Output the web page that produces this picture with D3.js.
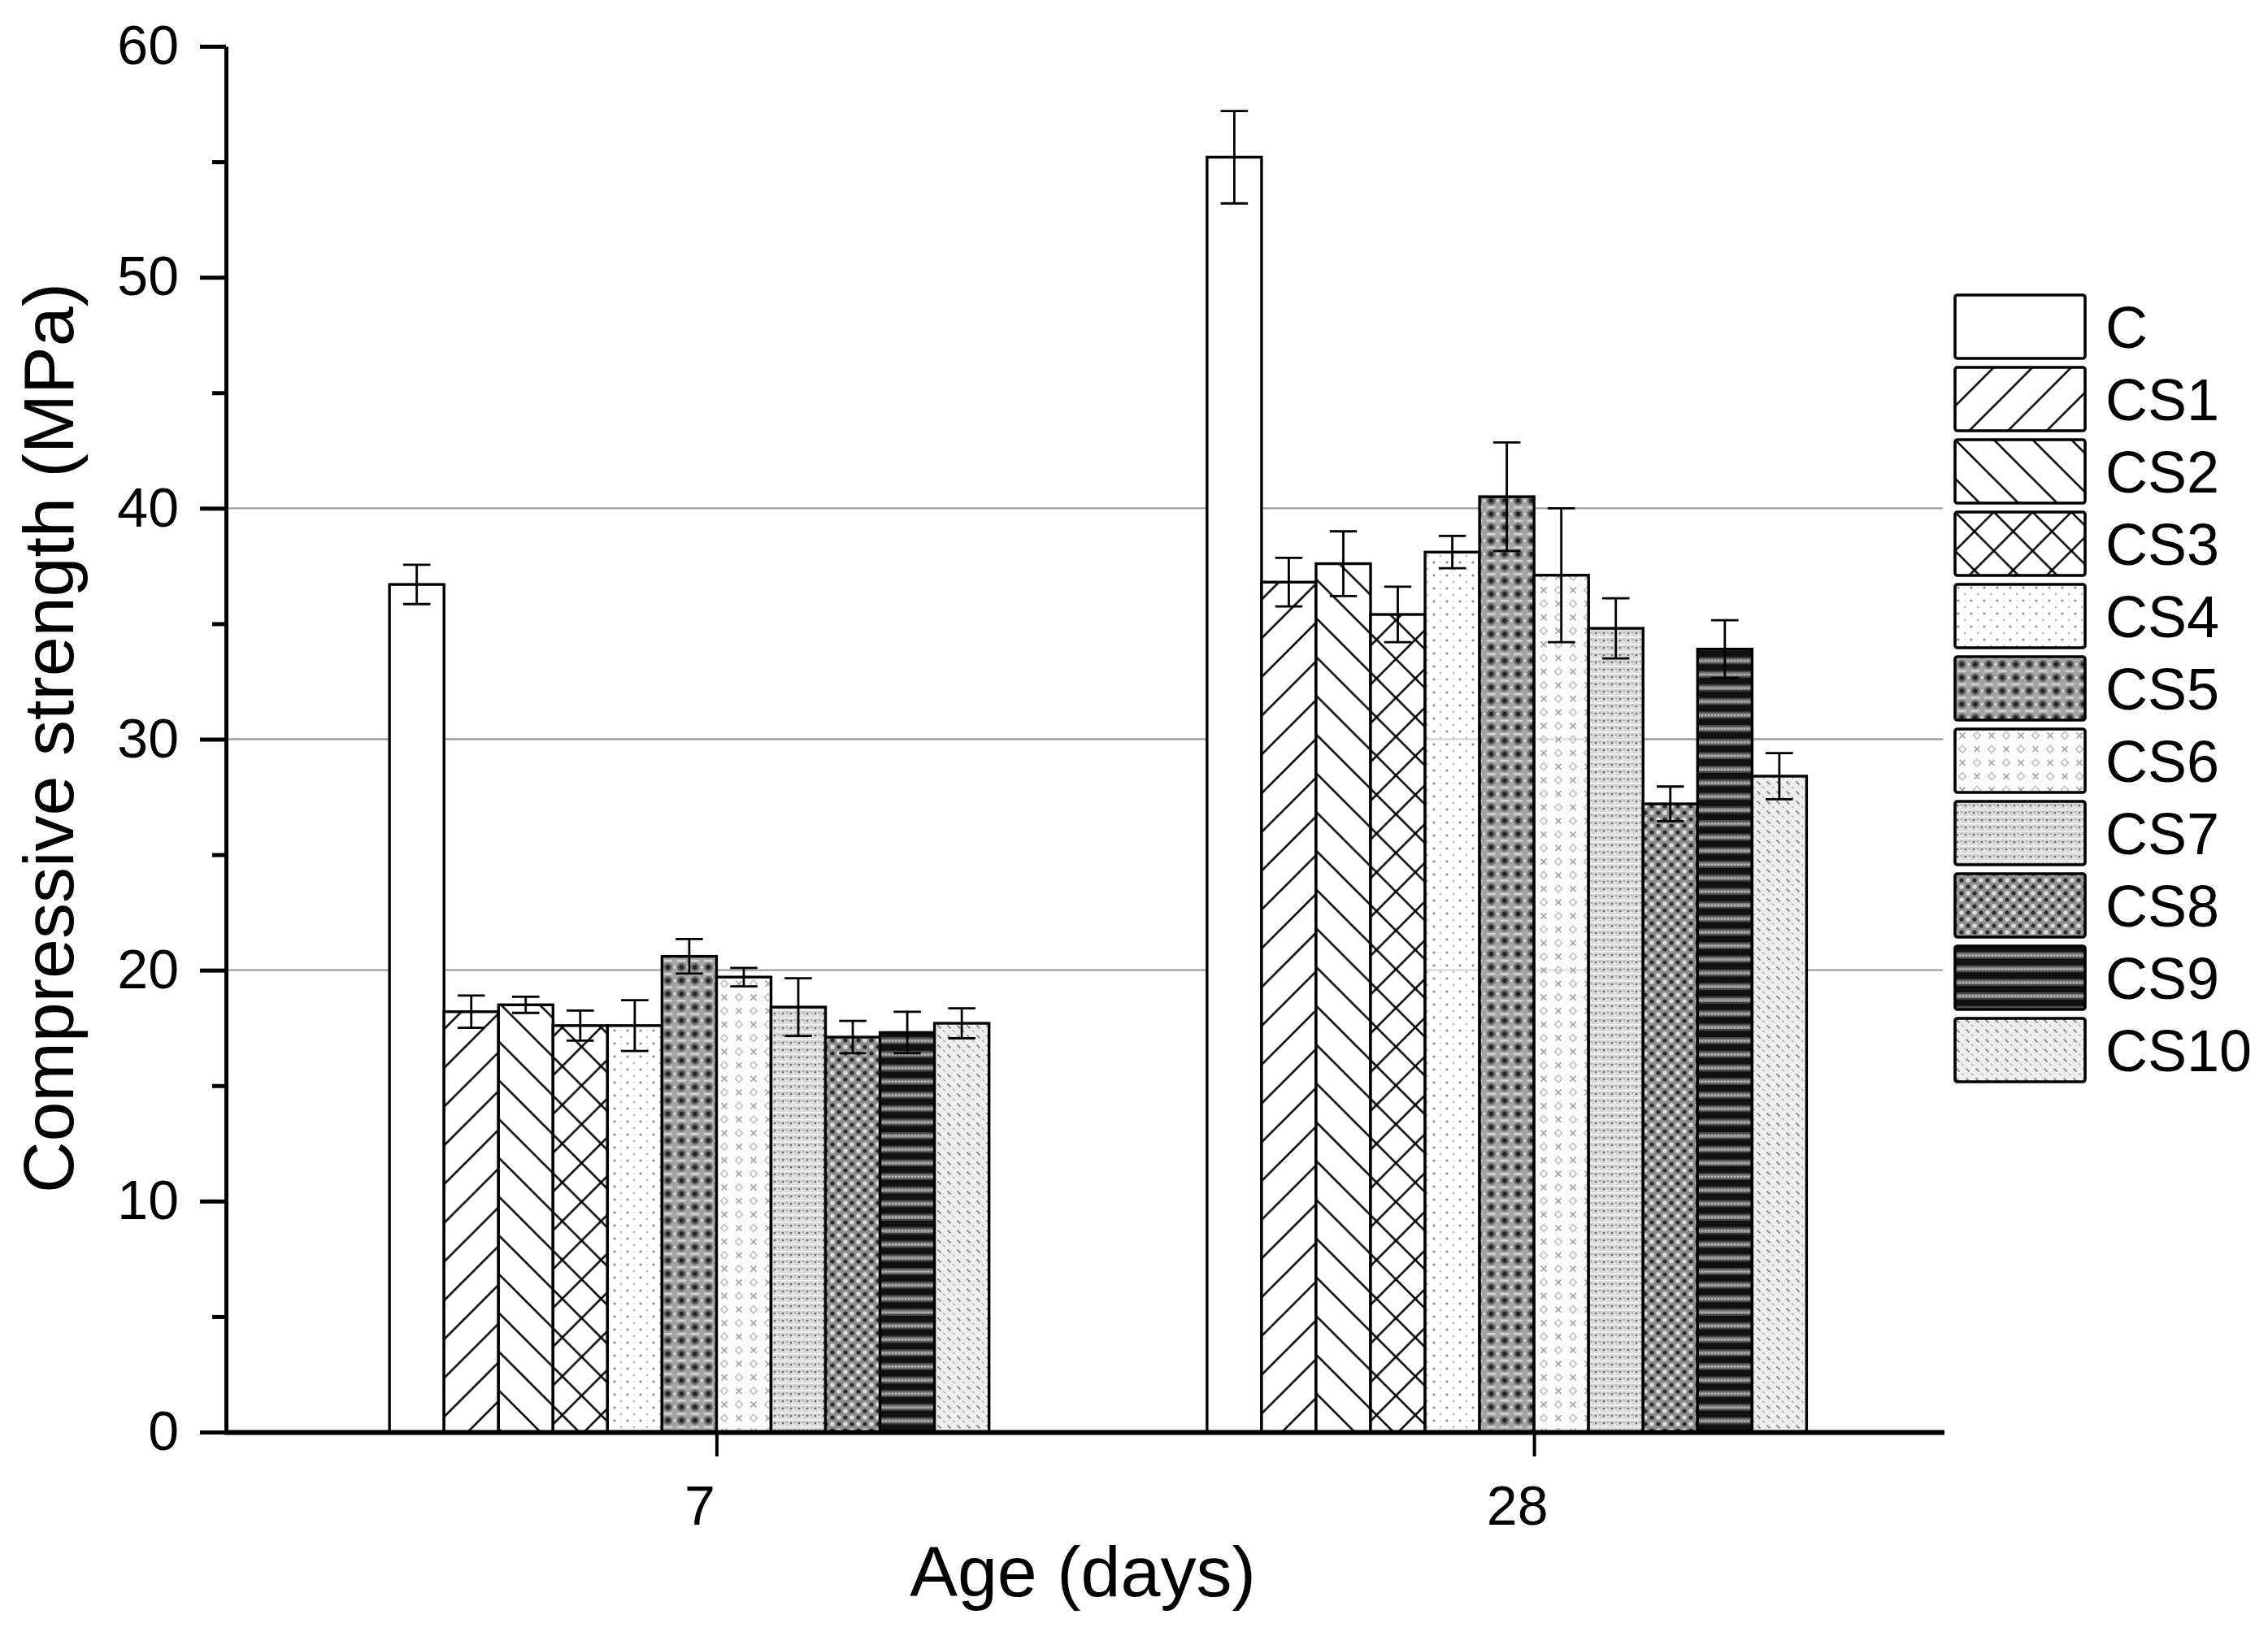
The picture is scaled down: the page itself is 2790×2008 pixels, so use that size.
<!DOCTYPE html>
<html>
<head>
<meta charset="utf-8">
<script src="https://cdn.jsdelivr.net/npm/d3@7"></script>
<style>
  body { margin: 0; background: #fff; }
  text { font-family: "Liberation Sans", Arial, sans-serif; fill: #000; }
</style>
</head>
<body>
<svg id="chart" width="2790" height="2008"></svg>
<script>
// data
const ages = ['7', '28']
const samples = ['C', 'CS1', 'CS2', 'CS3', 'CS4', 'CS5', 'CS6', 'CS7', 'CS8', 'CS9', 'CS10']
const strength7 = [36.7, 18.2, 18.5, 17.6, 17.6, 20.6, 19.7, 18.4, 17.1, 17.3, 17.7]
const error7 = [0.85, 0.7, 0.35, 0.65, 1.1, 0.75, 0.4, 1.25, 0.7, 0.9, 0.65]
const strength28 = [55.2, 36.8, 37.6, 35.4, 38.1, 40.5, 37.1, 34.8, 27.2, 33.9, 28.4]
const error28 = [2.0, 1.05, 1.4, 1.2, 0.7, 2.35, 2.9, 1.3, 0.75, 1.25, 1.0]
const yTicks = [0, 10, 20, 30, 40, 50, 60]
const gridValues = [20, 30, 40]

const svg = d3.select('#chart')
svg.append('rect').attr('width', 2790).attr('height', 2008).attr('fill', '#fff')
const defs = svg.append('defs')

const x = d3.scaleLinear().domain([0.4, 2.5]).range([278, 2390])
const y = d3.scaleLinear().domain([0, 60]).range([1762, 57])
const slot = 1 / 15
const barW = x(slot) - x(0)

// ---- fill patterns (Origin style) ----
function pat(id, w, h) {
  return defs.append('pattern').attr('id', id)
    .attr('patternUnits', 'userSpaceOnUse')
    .attr('width', w).attr('height', h)
}
const P = 47.7
function diag(p, dir) {
  const segs = dir > 0
    ? [[0, P, P, 0], [-2, 2, 2, -2], [P - 2, P + 2, P + 2, P - 2]]
    : [[0, 0, P, P], [-2, P - 2, 2, P + 2], [P - 2, -2, P + 2, 2]]
  segs.forEach(s => p.append('line')
    .attr('x1', s[0]).attr('y1', s[1]).attr('x2', s[2]).attr('y2', s[3])
    .attr('stroke', '#000').attr('stroke-width', 2.6))
}
pat('p0', 10, 10).append('rect').attr('width', 10).attr('height', 10).attr('fill', '#fff')

let p = pat('p1', P, P)
p.append('rect').attr('width', P).attr('height', P).attr('fill', '#fff')
diag(p, 1)

p = pat('p2', P, P)
p.append('rect').attr('width', P).attr('height', P).attr('fill', '#fff')
diag(p, -1)

p = pat('p3', P, P)
p.append('rect').attr('width', P).attr('height', P).attr('fill', '#fff')
diag(p, 1)
diag(p, -1)

// CS4 sparse dots
p = pat('p4', 16, 16)
p.append('rect').attr('width', 16).attr('height', 16).attr('fill', '#fff').attr('fill-opacity', 0.6)
p.append('circle').attr('cx', 4).attr('cy', 4).attr('r', 1.6).attr('fill', '#888')
p.append('circle').attr('cx', 12).attr('cy', 12).attr('r', 1.4).attr('fill', '#bbb')
p.append('circle').attr('cx', 12).attr('cy', 4).attr('r', 0.9).attr('fill', '#ddd')

// CS5 dark dots on grey
p = pat('p5', 16.6, 16.4)
p.append('rect').attr('width', 16.6).attr('height', 16.4).attr('fill', '#a4a4a4')
p.append('rect').attr('x', 3).attr('y', 0).attr('width', 10.6).attr('height', 2.4).attr('fill', '#d6d6d6')
p.append('circle').attr('cx', 8.3).attr('cy', 9.2).attr('r', 5.4).attr('fill', '#6a6a6a')
p.append('circle').attr('cx', 8.3).attr('cy', 9.2).attr('r', 2.8).attr('fill', '#222')
p.append('circle').attr('cx', 0).attr('cy', 9.2).attr('r', 1.6).attr('fill', '#e6e6e6')
p.append('circle').attr('cx', 16.6).attr('cy', 9.2).attr('r', 1.6).attr('fill', '#e6e6e6')

// CS6 light x and diamonds
p = pat('p6', 36, 33.4)
p.append('rect').attr('width', 36).attr('height', 33.4).attr('fill', '#fafafa').attr('fill-opacity', 0.7)
function xMark(g, cx, cy) {
  g.append('path').attr('d', `M${cx - 3.5},${cy - 3.5}L${cx + 3.5},${cy + 3.5}M${cx - 3.5},${cy + 3.5}L${cx + 3.5},${cy - 3.5}`)
    .attr('stroke', '#a0a0a0').attr('stroke-width', 1.6).attr('fill', 'none')
}
function dMark(g, cx, cy) {
  g.append('path').attr('d', `M${cx},${cy - 4.5}L${cx + 4.5},${cy}L${cx},${cy + 4.5}L${cx - 4.5},${cy}Z`)
    .attr('stroke', '#bcbcbc').attr('stroke-width', 1.5).attr('fill', 'none')
}
xMark(p, 9, 8); dMark(p, 27, 8); dMark(p, 9, 24.7); xMark(p, 27, 24.7)

// CS7 dense light texture
p = pat('p7', 10, 9)
p.append('rect').attr('width', 10).attr('height', 9).attr('fill', '#d2d2d2').attr('fill-opacity', 0.9)
p.append('rect').attr('x', 0).attr('y', 0).attr('width', 10).attr('height', 1.6).attr('fill', '#f4f4f4')
p.append('circle').attr('cx', 3).attr('cy', 5).attr('r', 1.3).attr('fill', '#666')
p.append('circle').attr('cx', 8).attr('cy', 4).attr('r', 1).attr('fill', '#999')
p.append('rect').attr('x', 5).attr('y', 6.5).attr('width', 3).attr('height', 1.2).attr('fill', '#f6f6f6')

// CS8 grey lattice
p = pat('p8', 16, 16)
p.append('rect').attr('width', 16).attr('height', 16).attr('fill', '#8e8e8e')
;[[0, 0], [16, 0], [0, 16], [16, 16], [8, 8]].forEach(c =>
  p.append('circle').attr('cx', c[0]).attr('cy', c[1]).attr('r', 2.6).attr('fill', '#2a2a2a'))
;[[8, 0], [0, 8], [16, 8], [8, 16]].forEach(c =>
  p.append('circle').attr('cx', c[0]).attr('cy', c[1]).attr('r', 2.8).attr('fill', '#dcdcdc'))

// CS9 horizontal stripes
p = pat('p9', 8, 16.7)
p.append('rect').attr('width', 8).attr('height', 16.7).attr('fill', '#111')
p.append('rect').attr('y', 7).attr('width', 8).attr('height', 2).attr('fill', '#4a4a4a')
p.append('rect').attr('y', 9).attr('width', 8).attr('height', 5).attr('fill', '#858585')
p.append('rect').attr('y', 14).attr('width', 8).attr('height', 1.6).attr('fill', '#4a4a4a')
p.append('circle').attr('cx', 2).attr('cy', 11.5).attr('r', 1).attr('fill', '#cfcfcf')
p.append('circle').attr('cx', 6).attr('cy', 11.5).attr('r', 1).attr('fill', '#cfcfcf')

// CS10 light diagonal dashes
p = pat('p10', 12, 12)
p.append('rect').attr('width', 12).attr('height', 12).attr('fill', '#ededed')
p.append('line').attr('x1', 1.5).attr('y1', 1.5).attr('x2', 5.5).attr('y2', 5.5)
  .attr('stroke', '#8c8c8c').attr('stroke-width', 1.8)
p.append('line').attr('x1', 8).attr('y1', 7.5).attr('x2', 10.5).attr('y2', 10)
  .attr('stroke', '#b0b0b0').attr('stroke-width', 1.5)
p.append('circle').attr('cx', 9).attr('cy', 2).attr('r', 1.1).attr('fill', '#fff')

// ---- grid ----
svg.append('g').selectAll('line').data(gridValues).enter().append('line')
  .attr('x1', x(0.4)).attr('x2', x(2.5))
  .attr('y1', d => y(d)).attr('y2', d => y(d))
  .attr('stroke', '#9e9e9e').attr('stroke-width', 2.4)

// ---- bars ----
const groups = [
  { age: 0, values: strength7, errors: error7 },
  { age: 1, values: strength28, errors: error28 }
]
const rows = []
groups.forEach(g => g.values.forEach((v, i) => rows.push({ g: g.age, i, v, e: g.errors[i] })))

const barX = d => x(d.g + 1 + (d.i - 6) * slot)

svg.append('g').selectAll('rect').data(rows).enter().append('rect')
  .attr('x', barX).attr('width', barW)
  .attr('y', d => y(d.v)).attr('height', d => y(0) - y(d.v))
  .attr('fill', d => `url(#p${d.i})`)
  .attr('stroke', '#000').attr('stroke-width', 3.4)

// ---- error bars ----
const eb = svg.append('g').attr('stroke', '#000').attr('fill', 'none')
eb.selectAll('path').data(rows).enter().append('path')
  .attr('d', d => {
    const cx = barX(d) + barW / 2
    const cw = barW / 4
    const t = y(d.v + d.e), b = y(d.v - d.e)
    return `M${cx},${t}V${b}M${cx - cw},${t}H${cx + cw}M${cx - cw},${b}H${cx + cw}`
  })
  .attr('stroke-width', 2.8)

// ---- axes ----
const yAxis = svg.append('g').attr('transform', `translate(${x(0.4)},0)`)
  .call(d3.axisLeft(y).tickValues(yTicks).tickSize(32).tickSizeOuter(0).tickPadding(26))
yAxis.select('.domain').attr('stroke-width', 5)
yAxis.selectAll('.tick line').attr('stroke-width', 5)
yAxis.selectAll('.tick text').style('font-size', '68px')

const yMinor = svg.append('g').attr('transform', `translate(${x(0.4)},0)`)
  .call(d3.axisLeft(y).tickValues(d3.range(5, 60, 10)).tickSize(17).tickFormat(''))
yMinor.select('.domain').remove()
yMinor.selectAll('.tick line').attr('stroke-width', 5)

const xAxis = svg.append('g').attr('transform', `translate(0,${y(0)})`)
  .call(d3.axisBottom(x).tickValues([1, 2]).tickFormat((d, i) => ages[i])
    .tickSize(30).tickSizeOuter(0).tickPadding(36))
xAxis.select('.domain').attr('stroke-width', 6).attr('d', `M${x(0.4) - 2},0.5H${x(2.5) + 2}`)
xAxis.selectAll('.tick line').attr('stroke-width', 4)
xAxis.selectAll('.tick text').style('font-size', '68px').attr('dx', -21)
svg.selectAll('.tick text').attr('font-family', null)
  .style('font-family', '"Liberation Sans", Arial, sans-serif')

// ---- titles ----
svg.append('text')
  .attr('transform', `translate(90,908) rotate(-90)`)
  .attr('text-anchor', 'middle')
  .style('font-size', '88px')
  .text('Compressive strength (MPa)')

svg.append('text')
  .attr('x', 1332).attr('y', 1964)
  .attr('text-anchor', 'middle')
  .style('font-size', '88px')
  .text('Age (days)')

// ---- legend ----
const legend = svg.append('g').selectAll('g').data(samples).enter().append('g')
  .attr('transform', (d, i) => `translate(2405,${363 + i * 89})`)
legend.append('rect')
  .attr('width', 160).attr('height', 78).attr('rx', 3)
  .attr('fill', (d, i) => `url(#p${i})`)
  .attr('stroke', '#000').attr('stroke-width', 3.6)
legend.append('text')
  .attr('x', 185).attr('y', 39).attr('dy', '0.36em')
  .style('font-size', '72px')
  .text(d => d)
</script>
</body>
</html>
